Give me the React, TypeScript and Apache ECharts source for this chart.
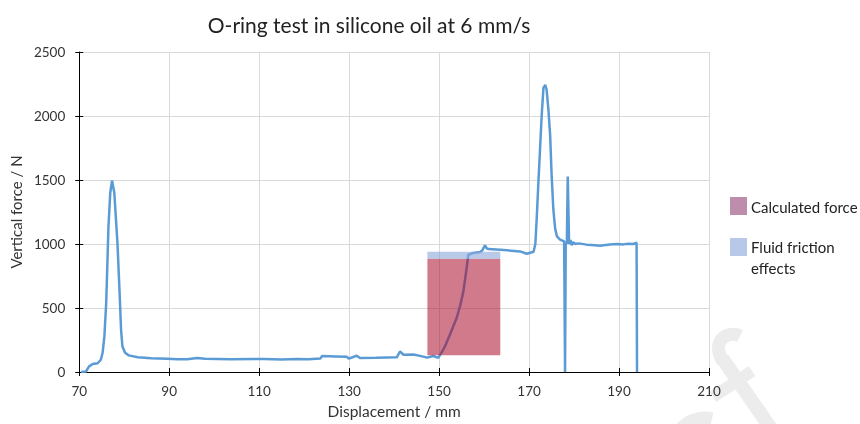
import React, { useEffect, useRef } from "react";
import * as echarts from "echarts";

const displacement = [
  70.4, 71.5, 72.2, 73.0, 74.1, 74.8, 75.2, 75.6, 76.0, 76.5, 76.9, 77.3, 77.8, 78.5, 79.0, 79.3,
  79.6, 80.2, 81.0, 83.0, 86.0, 89.5, 92.0, 94.0, 96.2, 98.0, 103.6, 111.0, 115.0, 118.4,
  121.0, 123.6, 124.0, 127.0, 129.5, 129.9, 131.7, 132.4, 136.0, 140.6, 141.3, 142.1, 144.3,
  146.5, 147.3, 148.7, 149.8, 150.5, 151.3, 152.4, 153.9, 154.7, 155.4, 156.0, 156.5, 157.6,
  159.1, 159.6, 160.2, 160.6, 161.0, 163.6, 166.0, 168.0, 169.5, 171.0, 171.4, 171.7, 172.1,
  172.4, 172.8, 173.2, 173.6, 173.9, 174.3, 174.7, 175.0, 175.4, 175.8, 176.2, 176.9, 177.8,
  178.0, 178.15, 178.4, 178.6, 178.9, 179.2, 179.5, 179.8, 180.3, 181.0, 182.8, 184.0, 185.8,
  187.0, 188.0, 189.5, 191.0, 192.0, 193.2, 193.9, 194.0,
];
const force = [
  0, 4, 44, 62, 68, 96, 150, 280, 540, 1137, 1400, 1497, 1400, 1008, 600, 330,
  200, 150, 130, 115, 108, 104, 100, 99, 110, 104, 100, 101, 98, 102,
  100, 106, 125, 122, 119, 104, 127, 110, 112, 115, 160, 135, 136,
  120, 112, 125, 110, 150, 200, 291, 422, 520, 630, 780, 916, 930,
  937, 950, 989, 965, 960, 955, 948, 942, 924, 940, 1000, 1200, 1500,
  1711, 2000, 2220, 2244, 2205, 2050, 1841, 1550, 1268, 1120, 1059, 1034, 1020,
  0, 1000, 1010, 1528, 1000, 1030, 990, 1015, 1000, 1005, 995, 992, 987,
  992, 996, 1000, 997, 1002, 1000, 1010, 0,
];

// bands: [xStart, xEnd, yStart, yEnd]
const calculatedForceBand = [147.4, 163.6, 130, 885];
const fluidFrictionBand = [147.4, 163.6, 885, 940];

const xTicks = { min: 70, max: 210, interval: 20 };
const yTicks = { min: 0, max: 2500, interval: 500 };

const legendNames = ["Calculated force", "Fluid friction\neffects"];
const titleText = "O-ring test in silicone oil at 6 mm/s";

const FONT = "Lato, 'Open Sans', sans-serif";
const WM = "#ececec";

export default function App() {
  const ref = useRef<HTMLDivElement>(null);
  useEffect(() => {
    if (!ref.current) return;
    const chart = echarts.init(ref.current, undefined, { renderer: "svg" });
    const linePoints = displacement.map((x, i) => [x, force[i]]);
    const bandColors = ["rgba(170,13,46,0.55)", "rgba(142,169,219,0.62)"];
    const axisCommon = {
      min: xTicks.min,
      max: xTicks.max,
      interval: xTicks.interval,
    };
    const option: any = {
      animation: false,
      textStyle: { fontFamily: FONT },
      title: {
        text: titleText,
        left: 364,
        top: 9,
        textAlign: "center",
        textStyle: { fontFamily: FONT, fontSize: 21, fontWeight: "normal", color: "#222" },
      },
      grid: { left: 79, right: 151, top: 52, bottom: 52, containLabel: false },
      xAxis: [
        {
          type: "value",
          ...axisCommon,
          position: "bottom",
          name: "Displacement / mm",
          nameLocation: "middle",
          nameGap: 31,
          nameTextStyle: { fontFamily: FONT, fontSize: 15.5, color: "#333" },
          axisLine: { show: true, onZero: false, lineStyle: { color: "#000", width: 1 } },
          axisTick: { show: true, length: 4, inside: false, lineStyle: { color: "#000" } },
          axisLabel: { margin: 12, fontFamily: FONT, fontSize: 13.5, color: "#333" },
          splitLine: { show: true, lineStyle: { color: "#d9d9d9", width: 1 } },
        },
        {
          type: "value",
          ...axisCommon,
          position: "bottom",
          axisLine: { show: false },
          axisTick: { show: true, length: 4, inside: true, lineStyle: { color: "#000" } },
          axisLabel: { show: false },
          splitLine: { show: false },
        },
      ],
      yAxis: [
        {
          type: "value",
          min: yTicks.min,
          max: yTicks.max,
          interval: yTicks.interval,
          position: "left",
          name: "Vertical force / N",
          nameLocation: "middle",
          nameGap: 44,
          nameTextStyle: { fontFamily: FONT, fontSize: 15, color: "#333" },
          axisLine: { show: true, lineStyle: { color: "#000", width: 1 } },
          axisTick: { show: true, length: 4, inside: false, lineStyle: { color: "#000" } },
          axisLabel: {
            margin: 14,
            fontFamily: FONT,
            fontSize: 13.5,
            color: "#333",
            formatter: (v: number) => String(v),
          },
          splitLine: { show: true, lineStyle: { color: "#d9d9d9", width: 1 } },
        },
        {
          type: "value",
          min: yTicks.min,
          max: yTicks.max,
          interval: yTicks.interval,
          position: "left",
          axisLine: { show: false },
          axisTick: { show: true, length: 4, inside: true, lineStyle: { color: "#000" } },
          axisLabel: { show: false },
          splitLine: { show: false },
        },
      ],
      series: [
        {
          name: "Force",
          type: "line",
          xAxisIndex: 0,
          yAxisIndex: 0,
          data: linePoints,
          showSymbol: false,
          symbol: "none",
          lineStyle: { color: "#5b9bd5", width: 2.5 },
          itemStyle: { color: "#5b9bd5" },
          z: 2,
        },
        {
          name: "Bands",
          type: "custom",
          xAxisIndex: 0,
          yAxisIndex: 0,
          z: 5,
          encode: { x: [0, 1], y: [2, 3] },
          data: [
            [...calculatedForceBand, 0],
            [...fluidFrictionBand, 1],
          ],
          renderItem: (params: any, api: any) => {
            const p0 = api.coord([api.value(0), api.value(3)]);
            const p1 = api.coord([api.value(1), api.value(2)]);
            return {
              type: "rect",
              shape: { x: p0[0], y: p0[1], width: p1[0] - p0[0], height: p1[1] - p0[1] },
              style: { fill: bandColors[api.value(4)] },
            };
          },
        },
      ],
      graphic: {
        elements: [
          // faint watermark strokes in the lower-right corner
          {
            type: "line",
            z: -10,
            silent: true,
            shape: { x1: 722, y1: 358, x2: 772, y2: 430 },
            style: { stroke: WM, lineWidth: 14, lineCap: "butt" },
          },
          {
            type: "bezierCurve",
            z: -10,
            silent: true,
            shape: { x1: 723, y1: 362, cpx1: 710, cpy1: 340, x2: 740, y2: 336, cpx2: 728, cpy2: 330 },
            style: { stroke: WM, lineWidth: 13, fill: null },
          },
          {
            type: "line",
            z: -10,
            silent: true,
            shape: { x1: 713, y1: 397, x2: 752, y2: 371 },
            style: { stroke: WM, lineWidth: 12, lineCap: "butt" },
          },
          {
            type: "arc",
            z: -10,
            silent: true,
            shape: { cx: 705, cy: 450, r: 32, startAngle: -2.55, endAngle: -1.35 },
            style: { stroke: WM, lineWidth: 13, fill: null },
          },
          {
            type: "rect",
            shape: { x: 730, y: 197, width: 17, height: 18 },
            style: { fill: "#bd8dab" },
          },
          {
            type: "text",
            x: 751,
            y: 207,
            style: {
              text: legendNames[0],
              fill: "#222",
              font: "15px Lato, sans-serif",
              textVerticalAlign: "middle",
            },
          },
          {
            type: "rect",
            shape: { x: 730, y: 238, width: 17, height: 18 },
            style: { fill: "#b8c8e8" },
          },
          {
            type: "text",
            x: 751,
            y: 236,
            style: {
              text: legendNames[1],
              fill: "#222",
              font: "15px Lato, sans-serif",
              lineHeight: 21,
              textVerticalAlign: "top",
            },
          },
        ],
      },
    };
    chart.setOption(option);
    return () => chart.dispose();
  }, []);
  return (
    <div
      ref={ref}
      style={{ position: "fixed", left: 0, top: 0, width: 860, height: 424 }}
    />
  );
}
